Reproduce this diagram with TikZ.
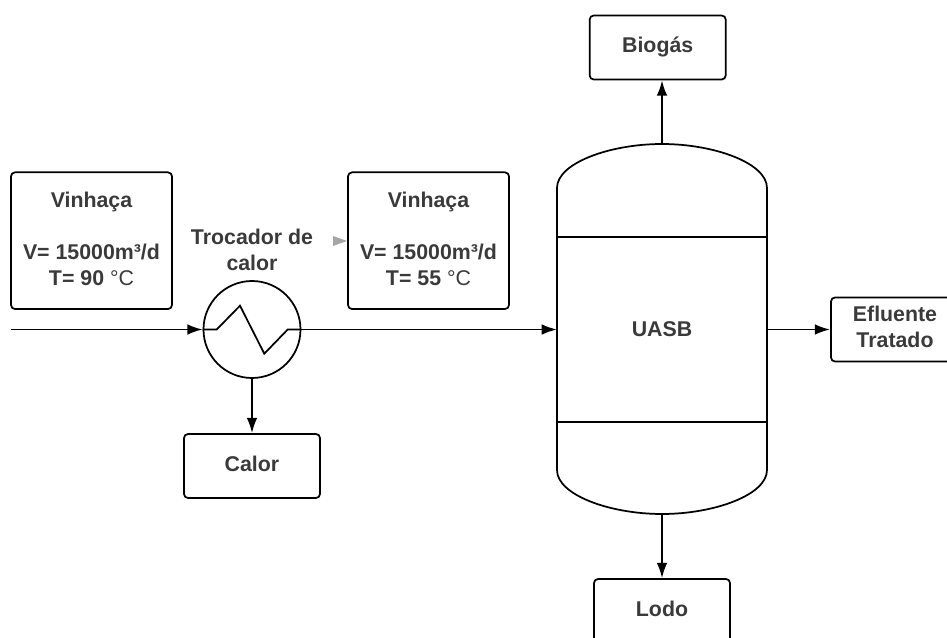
\documentclass[tikz,border=0pt]{standalone}
\usepackage{fontspec}
\setmainfont{Liberation Sans}
\usetikzlibrary{arrows.meta}
\definecolor{labelgray}{HTML}{3A3A3A}
\tikzset{
    flow/.style={draw=black, line width=1.4pt, -{Latex[length=11.5pt,width=8pt]}},
    tankline/.style={draw=black, line width=1.3pt},
    labeltext/.style={font=\fontsize{16}{19.5}\selectfont\bfseries, text=labelgray, align=center},
    infobox/.style={labeltext, draw=black, line width=1.3pt, rounded corners=3pt, inner sep=0pt, text depth=3.5pt},
}
\newcommand{\degC}{{\mdseries °C}}
\begin{document}
\begin{tikzpicture}[x=0.75pt, y=-0.75pt]
        \useasboundingbox (0,0) rectangle (947,638);
        % reactor
        \draw[tankline] (557,188) .. controls (557,163) and (610,144) .. (662,144)
            .. controls (714,144) and (767,163) .. (767,188) -- (767,470)
            .. controls (767,495) and (714,514) .. (662,514)
            .. controls (610,514) and (557,495) .. (557,470) -- cycle;
        \foreach \y in {237,422}{
            \draw[tankline] (557,\y) -- (767,\y);}
        \coordinate (tanktop) at (662,144);
        \coordinate (tankbottom) at (662,514);
        \coordinate (tankleft) at (557,329.5);
        \coordinate (tankright) at (767,329.5);
        \coordinate (feed) at (11,329.5);
        \node[labeltext] (uasb) at (662,329.5) {UASB};
        % boxes
        \node[infobox, minimum width=120.75pt, minimum height=102.5pt] (hot) at (91.5,240.7)
            {Vinhaça\\[19.5pt]V= 15000m³/d\\T= 90 \degC};
        \node[infobox, minimum width=120.75pt, minimum height=102.5pt] (cold) at (428.5,240.7)
            {Vinhaça\\[19.5pt]V= 15000m³/d\\T= 55 \degC};
        \node[infobox, minimum width=102pt, minimum height=48pt] (heat) at (252,466) {Calor};
        \node[infobox, minimum width=102pt, minimum height=48pt] (biogas) at (657.7,47.5) {Biogás};
        \node[infobox, minimum width=102pt, minimum height=48pt] (sludge) at (662,611) {Lodo};
        \node[infobox, minimum width=96pt, minimum height=48pt] (effluent) at (895,329.5) {Efluente\\Tratado};
        \node[labeltext] (exlabel) at (252,250) {Trocador de\\calor};
        % heat exchanger
        \node[circle, draw=black, line width=1.3pt, minimum size=72.75pt, inner sep=0pt] (exchanger) at (252,329.5) {};
        \draw[tankline] (exchanger.west) -- (216.7,329.5) -- (240,305.7) -- (264.3,353.7)
            -- (287.7,329.5) -- (exchanger.east);
        % grey tip
        \fill[gray!70] (333,236) -- (347,241) -- (333,246) -- cycle;
        % flows
        \draw[flow] (feed) -- (exchanger.west);
        \draw[flow] (exchanger.east) -- (tankleft);
        \draw[flow] (exchanger.south) -- (heat.north);
        \draw[flow] (tanktop) -- (tanktop |- biogas.south);
        \draw[flow] (tankbottom) -- (sludge.north);
        \draw[flow] (tankright) -- (effluent.west);
    \end{tikzpicture}
\end{document}
